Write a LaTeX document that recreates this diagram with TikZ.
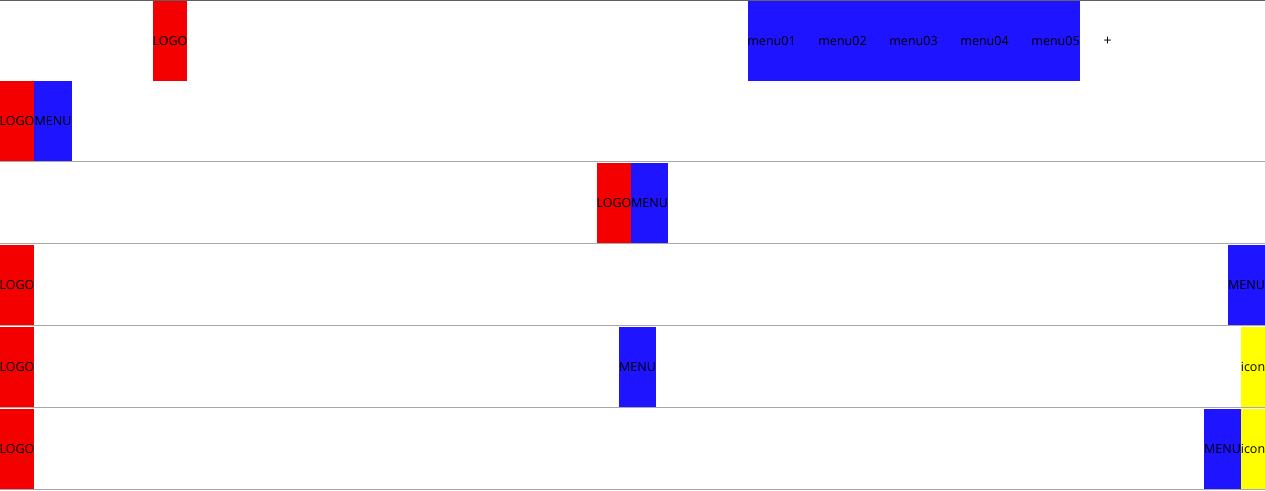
\documentclass[tikz,border=0pt]{standalone}
\usepackage{fontspec}
\setmainfont{Open Sans}
\definecolor{bred}{HTML}{F50000}
\definecolor{bblue}{HTML}{1F14FF}
\definecolor{byel}{HTML}{FFFF00}
\definecolor{sep}{HTML}{A8A8A8}
\definecolor{topline}{HTML}{606060}
\newcommand{\zw}[1]{\makebox[0pt]{#1}}
\begin{document}
\begin{tikzpicture}[x=1pt,y=-1pt,
  box/.style={draw=none,inner sep=0pt,outer sep=0pt,minimum height=80pt,font=\fontsize{12.5}{13}\selectfont,anchor=north west},
  logo/.style={box,fill=bred,minimum width=34pt},
  menu/.style={box,fill=bblue,minimum width=37pt},
  icon/.style={box,fill=byel,minimum width=24pt},
  lbl/.style={inner sep=0pt,font=\fontsize{12.5}{13}\selectfont},
  sepline/.style={draw=sep,line width=1pt}]
\useasboundingbox (0,0) rectangle (1265,490);
\fill[white] (0,0) rectangle (1265,490);
% row 1
\draw[draw=topline,line width=1.2pt] (0,0.6) -- (1265,0.6);
\node[logo] (l1) at (153,1) {\zw{LOGO}};
\node[box,fill=bblue,minimum width=332pt] (m1) at (748,1) {};
\node[lbl] (t1) at (771.5,41.5) {menu01};
\node[lbl] (t2) at (842.5,41.5) {menu02};
\node[lbl] (t3) at (913.5,41.5) {menu03};
\node[lbl] (t4) at (984.5,41.5) {menu04};
\node[lbl] (t5) at (1055.5,41.5) {menu05};
\node[lbl,font=\fontsize{14}{14}\selectfont] (plus) at (1107.5,41.5) {+};
% row 2
\node[logo] (l2) at (0,81) {\zw{LOGO}};
\node[menu,minimum width=38pt] (n2) at (34,81) {\zw{MENU}};
\draw[sepline] (0,161.5) -- (1265,161.5);
% row 3
\node[logo] (l3) at (597,163) {\zw{LOGO}};
\node[menu] (n3) at (631,163) {\zw{MENU}};
\draw[sepline] (0,243.5) -- (1265,243.5);
% row 4
\node[logo] (l4) at (0,245) {\zw{LOGO}};
\node[menu] (n4) at (1228,245) {\zw{MENU}};
\draw[sepline] (0,325.5) -- (1265,325.5);
% row 5
\node[logo] (l5) at (0,327) {\zw{LOGO}};
\node[menu] (n5) at (619,327) {\zw{MENU}};
\node[icon] (i5) at (1241,327) {\zw{icon}};
\draw[sepline] (0,407.5) -- (1265,407.5);
% row 6
\node[logo] (l6) at (0,409) {\zw{LOGO}};
\node[menu] (n6) at (1204,409) {\zw{MENU}};
\node[icon] (i6) at (1241,409) {\zw{icon}};
\draw[sepline] (0,489.5) -- (1265,489.5);
\end{tikzpicture}
\end{document}
